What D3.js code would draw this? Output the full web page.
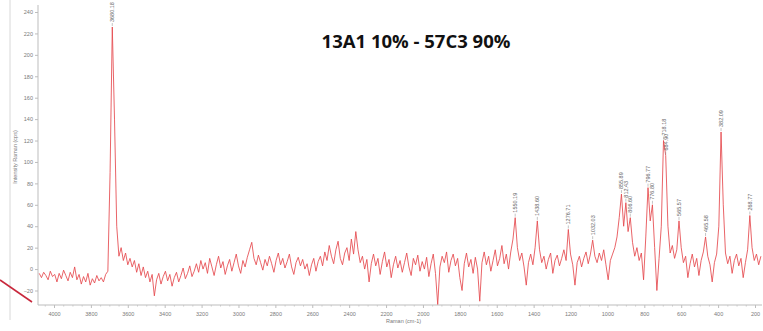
<!DOCTYPE html>
<html><head><meta charset="utf-8">
<script src="https://cdn.jsdelivr.net/npm/d3@7"></script>
<style>body{margin:0;background:#fff}svg{display:block}</style>
</head><body>
<svg id="c" width="763" height="331"></svg>
<script>
const title = "13A1 10% - 57C3 90%";
const xLabel = "Raman (cm-1)";
const yLabel = "Intensity Raman (cps)";
const xTicks = [4000,3800,3600,3400,3200,3000,2800,2600,2400,2200,2000,1800,1600,1400,1200,1000,800,600,400,200];
const yTicks = [-20,0,20,40,60,80,100,120,140,160,180,200,220,240];
// wavenumber grid (cm-1), step 12 from 4080 down
const wavenumbers = d3.range(4080, 167, -12);
const intensity = [
-4,-8,-3,-6,-10,-2,-7,-5,-12,-4,-9,-1,-6,-11,-3,-8,2,-10,-5,-14,
-7,-12,-4,-15,-9,-13,-6,-11,-8,-12,-5,-2,90,226,140,40,12,20,8,15,
4,10,2,8,-3,5,-6,2,-8,-2,-12,-5,-25,-10,-4,-14,-7,-2,-11,-5,
-16,-8,-3,-12,-6,1,-9,-4,3,-7,-2,5,-3,8,0,6,-4,10,2,-6,
4,12,1,7,-5,3,9,-2,6,14,3,-4,8,2,11,18,25,10,4,13,
6,-1,9,3,12,5,-3,8,15,4,10,1,7,14,2,-5,6,11,3,9,
0,5,-6,4,10,-2,7,12,3,16,8,22,12,5,18,26,10,4,15,20,
8,28,14,35,18,6,12,0,9,-12,5,14,3,10,-5,7,16,2,9,-8,
4,12,1,8,-3,6,15,2,-6,10,4,13,-2,7,0,11,-7,5,14,-4,
-33,2,12,6,16,-3,8,14,3,10,-8,-20,5,15,2,9,-4,11,0,-30,
6,16,4,12,-2,8,18,3,10,22,5,14,0,16,28,48,20,8,15,2,
-15,6,14,4,20,45,18,6,12,0,9,15,-4,8,13,3,10,18,8,37,
14,4,-15,6,12,2,10,16,5,14,27,12,6,15,8,18,4,-10,8,14,
20,30,48,70,40,62,35,48,25,12,20,8,15,-10,30,76,45,60,20,-20,
10,40,120,106,40,15,22,10,18,45,20,6,12,-8,5,14,2,10,-6,8,
16,30,12,4,-12,6,14,40,128,60,15,5,12,-4,8,14,3,10,-8,6,
18,50,20,8,14,4,12
];
const peakWn = [3684,1500,1380,1212,1080,924,900,876,780,756,696,684,612,468,384,228];
const peakText = ["3680.18","1550.19","1438.60","1276.71","1032.03","855.89","812.43","806.60","796.77","776.80","718.18","684.90","565.57","465.58","382.09","268.77"];

const svg = d3.select("#c");
const x = d3.scaleLinear().domain([4000,200]).range([54,755]);
const y = d3.scaleLinear().domain([-20,240]).range([290.5,12]);
const axisY = 305, leftX = 38, rightX = 762, topY = 5;
const smallFont = "5.5px 'Liberation Sans', Arial, sans-serif";

// stray marks
svg.append("line").attr("x1",10).attr("x2",10).attr("y1",0).attr("y2",320).attr("stroke","#d8d8d8").attr("stroke-width",1);
svg.append("line").attr("x1",0).attr("y1",280).attr("x2",32).attr("y2",302).attr("stroke","#c8283c").attr("stroke-width",1.6);

// y axis
const gy = svg.append("g").attr("transform",`translate(${leftX},0)`)
  .call(d3.axisLeft(y).tickValues(yTicks).tickSize(3).tickPadding(2).tickFormat(d3.format("d")));
gy.select(".domain").remove();
gy.append("line").attr("x1",0).attr("x2",0).attr("y1",topY).attr("y2",axisY).attr("stroke","#bdbdbd");
gy.selectAll(".tick line").attr("stroke","#bdbdbd");
gy.selectAll(".tick text").attr("fill","#7a7a7a").style("font",smallFont);

// x axis
const gx = svg.append("g").attr("transform",`translate(0,${axisY})`)
  .call(d3.axisBottom(x).tickValues(xTicks).tickSize(3).tickPadding(4).tickFormat(d3.format("d")));
gx.select(".domain").remove();
gx.append("line").attr("x1",leftX).attr("x2",rightX).attr("y1",0).attr("y2",0).attr("stroke","#bdbdbd");
gx.selectAll(".tick line").attr("stroke","#bdbdbd");
gx.selectAll(".tick text").attr("fill","#7a7a7a").style("font",smallFont);
const minor = svg.append("g").attr("transform",`translate(0,${axisY})`)
  .call(d3.axisBottom(x).tickValues(d3.range(4050,150,-50).filter(v=>v%200!==0)).tickSize(1.5).tickFormat(""));
minor.select(".domain").remove();
minor.selectAll(".tick line").attr("stroke","#c8c8c8");

// axis labels
svg.append("text").attr("x",386).attr("y",323).attr("fill","#7a7a7a").style("font",smallFont).text(xLabel);
svg.append("text").attr("transform","translate(17,157) rotate(-90)").attr("text-anchor","middle").attr("fill","#7a7a7a")
  .style("font",smallFont).text(yLabel);

// spectrum
const n = Math.min(wavenumbers.length, intensity.length);
const data = d3.range(n).map(i=>({w: wavenumbers[i], v: intensity[i]}));
svg.append("path").datum(data)
  .attr("fill","none").attr("stroke","#e5484d").attr("stroke-width",0.85).attr("stroke-linejoin","round")
  .attr("d", d3.line().x(d=>x(d.w)).y(d=>y(d.v)));

// peak labels
peakWn.forEach((w,i)=>{
  const d = data.reduce((a,b)=>Math.abs(b.w-w)<Math.abs(a.w-w)?b:a);
  const px = x(d.w), py = y(d.v);
  svg.append("line").attr("x1",px).attr("x2",px).attr("y1",py-1).attr("y2",py-4).attr("stroke","#888").attr("stroke-width",0.5);
  svg.append("text").attr("transform",`translate(${px+2},${py-5}) rotate(-90)`)
    .attr("fill","#666").style("font",smallFont).text(peakText[i]);
});

// title
svg.append("text").attr("x",416).attr("y",48).attr("text-anchor","middle")
  .style("font","bold 18.5px 'Open Sans', sans-serif").attr("fill","#111").text(title);
</script>
</body></html>
